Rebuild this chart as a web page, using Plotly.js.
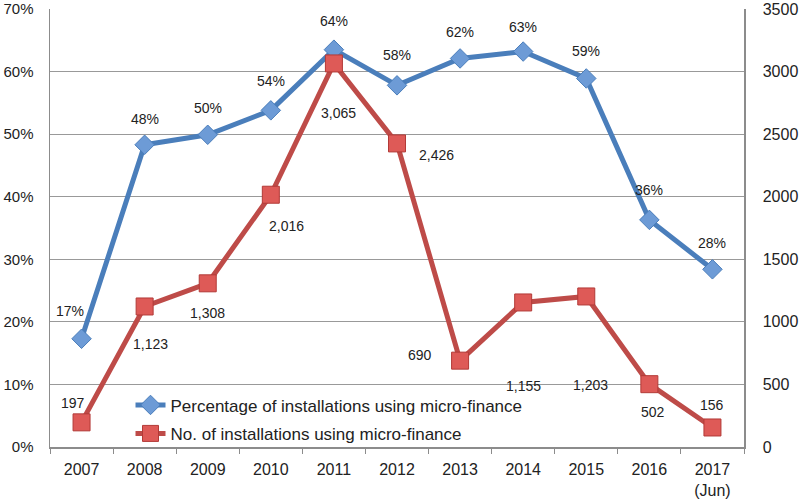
<!DOCTYPE html>
<html><head><meta charset="utf-8">
<script src="https://cdn.plot.ly/plotly-3.0.1.min.js"></script>
<style>html,body{margin:0;padding:0;background:#fff}#chart{width:800px;height:503px}</style>
</head><body><div id="chart"></div>
<script>
const years = ['2007','2008','2009','2010','2011','2012','2013','2014','2015','2016','2017<br>(Jun)'];
const pctValues = [0.173, 0.483, 0.499, 0.538, 0.635, 0.578, 0.621, 0.632, 0.589, 0.363, 0.284];
const pctLabels = ['17%','48%','50%','54%','64%','58%','62%','63%','59%','36%','28%'];
const countValues = [197, 1123, 1308, 2016, 3065, 2426, 690, 1155, 1203, 502, 156];
const countLabels = ['197','1,123','1,308','2,016','3,065','2,426','690','1,155','1,203','502','156'];
const seriesNames = ['Percentage of installations using micro-finance','No. of installations using micro-finance'];

// label offsets (px) relative to points
const pctOffsets = [[-12,-28],[0,-26],[0,-27],[0,-29],[0,-29],[0,-30],[0,-26],[0,-25],[0,-27],[0,-30],[0,-26]];
const countOffsets = [[-9,-19],[6,38],[0,30],[16,31],[5,50],[39,12],[-40,-6],[0,84],[4,89],[4,28],[0,-22]];

const font = 'Liberation Sans, Arial, sans-serif';
const blue = '#4a7ebb', red = '#be4b48';

const traces = [
  {x: years, y: pctValues, name: seriesNames[0], type: 'scatter', mode: 'lines+markers', legend: 'legend',
   line: {color: blue, width: 5}, marker: {symbol: 'diamond', size: 15, color: '#6d9bd6', line: {color: blue, width: 1}}},
  {x: years, y: countValues, name: seriesNames[1], type: 'scatter', mode: 'lines+markers', yaxis: 'y2', legend: 'legend2',
   line: {color: red, width: 5}, marker: {symbol: 'square', size: 17, color: '#de5a57', line: {color: '#b23a37', width: 1}}}
];

const annotations = [];
years.forEach((yr, i) => {
  annotations.push({x: i, y: pctValues[i], xref: 'x', yref: 'y', text: pctLabels[i], showarrow: true, arrowcolor: 'rgba(0,0,0,0)',
    ax: pctOffsets[i][0], ay: pctOffsets[i][1], font: {family: font, size: 14, color: '#222'}});
  annotations.push({x: i, y: countValues[i], xref: 'x', yref: 'y2', text: countLabels[i], showarrow: true, arrowcolor: 'rgba(0,0,0,0)',
    ax: countOffsets[i][0], ay: countOffsets[i][1], font: {family: font, size: 14, color: '#222'}});
});

const legendStyle = (y) => ({x: 0.116, y: y, xanchor: 'left', yanchor: 'middle', bgcolor: 'rgba(255,255,255,0)',
  font: {family: font, size: 17, color: '#222'}, itemwidth: 30});

const layout = {
  width: 800, height: 503,
  margin: {l: 50, r: 56, t: 9, b: 56},
  paper_bgcolor: '#fff', plot_bgcolor: '#fff',
  font: {family: font, size: 16, color: '#222'},
  showlegend: true,
  legend: legendStyle(0.095),
  legend2: legendStyle(0.030),
  xaxis: {type: 'category', range: [-0.5, 10.5], autorange: false, showline: true, linecolor: '#8c8c8c', linewidth: 1.5,
          ticks: 'outside', tickson: 'boundaries', ticklen: 5, tickcolor: '#8c8c8c', showgrid: false,
          tickfont: {size: 16}, ticklabelstandoff: 7},
  yaxis: {range: [0, 0.70001], dtick: 0.1, tickformat: '.0%', showline: true, linecolor: '#8c8c8c', linewidth: 1.5,
          gridcolor: '#999', gridwidth: 1, zeroline: false, ticks: '', tickfont: {size: 15}, ticklabelstandoff: 12,
          ticklabeloverflow: 'allow'},
  yaxis2: {range: [0, 3500.05], dtick: 500, tickformat: 'd', overlaying: 'y', side: 'right', showline: true, linecolor: '#8c8c8c',
           linewidth: 1.5, showgrid: false, zeroline: false, ticks: '', tickfont: {size: 16}, ticklabelstandoff: 14,
           ticklabeloverflow: 'allow'},
  annotations: annotations
};

Plotly.newPlot('chart', traces, layout, {displayModeBar: false, staticPlot: true});
</script></body></html>
